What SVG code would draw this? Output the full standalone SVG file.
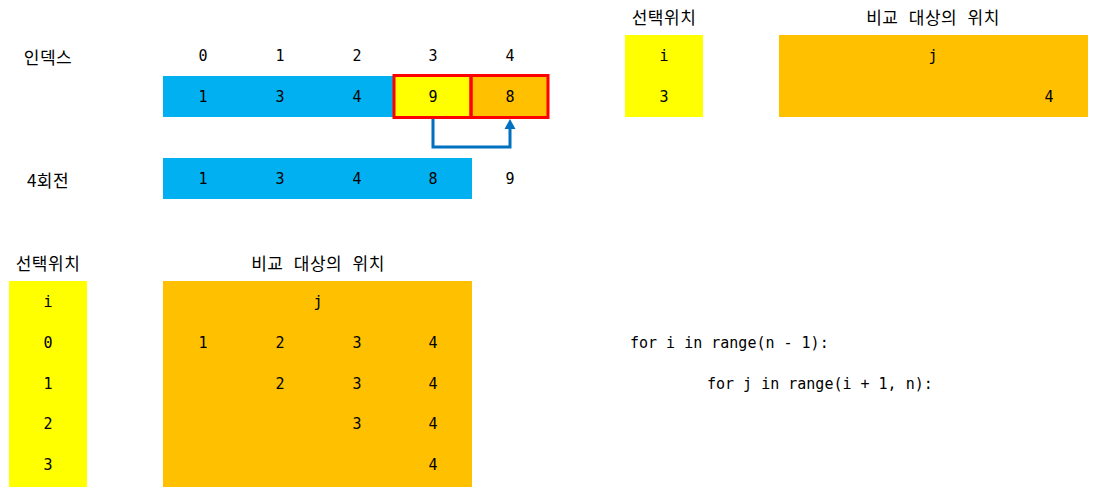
<svg xmlns="http://www.w3.org/2000/svg" width="1094" height="495" viewBox="0 0 1094 495">
<defs>
<style>
text{font-family:"DejaVu Sans Mono","Noto Sans CJK KR",monospace;font-size:15px;fill:#000;text-anchor:middle;dominant-baseline:central}
.ko{font-family:"Noto Sans CJK KR","DejaVu Sans",sans-serif;font-size:17px;letter-spacing:0.5px;word-spacing:6px}
.code{text-anchor:start}
.blue{fill:#00B0F0}
.yel{fill:#FFFF00}
.org{fill:#FFC000}
</style>
</defs>
<rect width="1094" height="495" fill="#fff"/>

<g id="index-row">
<text class="ko" x="48" y="56">인덱스</text>
<text x="203" y="56">0</text><text x="280" y="56">1</text><text x="357" y="56">2</text><text x="433" y="56">3</text><text x="510" y="56">4</text>
</g>

<g id="array-row">
<rect class="blue" x="163" y="76" width="232" height="41"/>
<rect class="yel" x="395" y="76" width="76" height="41"/>
<rect class="org" x="471" y="76" width="77" height="41"/>
<rect x="394" y="75.5" width="77" height="42" fill="none" stroke="#FF0000" stroke-width="3"/>
<rect x="471" y="75.5" width="77" height="42" fill="none" stroke="#FF0000" stroke-width="3"/>
<text x="203" y="97">1</text><text x="280" y="97">3</text><text x="357" y="97">4</text><text x="433" y="97">9</text><text x="510" y="97">8</text>
</g>

<g id="connectors">
<path d="M433,119 V147 H510 V124" fill="none" stroke="#0070C0" stroke-width="3"/>
<path d="M510,119 L504.5,129 L515.5,129 Z" fill="#0070C0"/>
</g>

<g id="round4">
<text class="ko" x="48" y="179">4회전</text>
<rect class="blue" x="163" y="158" width="309" height="41"/>
<text x="203" y="179">1</text><text x="280" y="179">3</text><text x="357" y="179">4</text><text x="433" y="179">8</text><text x="510" y="179">9</text>
</g>

<g id="top-select">
<text class="ko" x="664" y="16">선택위치</text>
<rect class="yel" x="625" y="35" width="78" height="82"/>
<text x="664" y="56">i</text><text x="664" y="97">3</text>
</g>

<g id="top-compare">
<text class="ko" x="933" y="16">비교 대상의 위치</text>
<rect class="org" x="779" y="35" width="309" height="82"/>
<text x="933" y="56">j</text><text x="1049" y="97">4</text>
</g>

<g id="bottom-select">
<text class="ko" x="48" y="262">선택위치</text>
<rect class="yel" x="9" y="281" width="78" height="206"/>
<text x="48" y="302">i</text><text x="48" y="343">0</text><text x="48" y="384">1</text><text x="48" y="424">2</text><text x="48" y="465">3</text>
</g>

<g id="bottom-compare">
<text class="ko" x="318" y="262">비교 대상의 위치</text>
<rect class="org" x="163" y="281" width="309" height="206"/>
<text x="318" y="302">j</text>
<text x="203" y="343">1</text><text x="280" y="343">2</text><text x="357" y="343">3</text><text x="433" y="343">4</text>
<text x="280" y="384">2</text><text x="357" y="384">3</text><text x="433" y="384">4</text>
<text x="357" y="424">3</text><text x="433" y="424">4</text>
<text x="433" y="465">4</text>
</g>

<g id="code">
<text class="code" x="630" y="343">for i in range(n - 1):</text>
<text class="code" x="707" y="384">for j in range(i + 1, n):</text>
</g>
</svg>
